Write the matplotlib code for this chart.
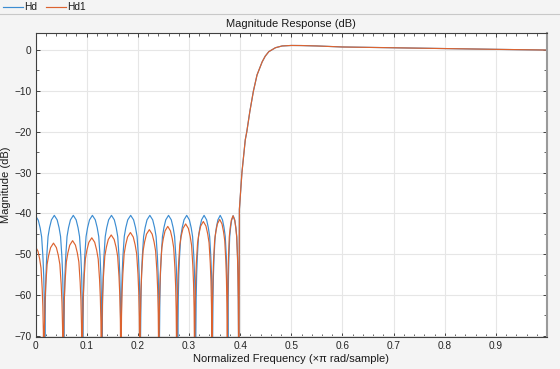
import numpy as np
import matplotlib
matplotlib.use('Agg')
import matplotlib.pyplot as plt
from matplotlib.lines import Line2D
from matplotlib.ticker import MultipleLocator

plt.rcParams['font.family'] = ['Liberation Sans', 'DejaVu Sans']

# DATA ######
# stopband nulls (x pi rad/sample) and lobe peak levels (dB)
hd_nulls = [0.0182, 0.0553, 0.0924, 0.130, 0.167, 0.205, 0.242, 0.278, 0.313, 0.346, 0.376, 0.397]
hd_peaks = [-40.6, -40.5, -40.5, -40.5, -40.5, -40.5, -40.5, -40.5, -40.5, -40.5, -40.5, -40.6]
hd1_nulls = [0.0163, 0.054, 0.091, 0.129, 0.167, 0.204, 0.241, 0.276, 0.311, 0.345, 0.375, 0.397]
hd1_peaks = [-48.2, -47.3, -46.7, -46.0, -45.3, -44.7, -44.0, -43.2, -42.6, -42.0, -41.5, -40.6]

# shape of one stopband lobe: (fraction of lobe width, dB below lobe peak)
lobe_frac = [0.0, 0.01, 0.03, 0.06, 0.10, 0.17, 0.25, 0.35, 0.5, 0.65, 0.75, 0.83, 0.90, 0.94, 0.97, 0.99]
lobe_drop = [-60, -30, -20.6, -14.6, -10.2, -5.2, -3.0, -1.1, 0.0, -1.1, -3.0, -5.2, -10.2, -14.6, -20.6, -30]

# transition band + passband (shared by both filters)
tb_freq = [0.3985, 0.4035, 0.410, 0.413, 0.419, 0.426, 0.433, 0.443, 0.449, 0.456, 0.469,
           0.482, 0.50, 0.52, 0.55, 0.60, 0.70, 0.80, 0.90, 0.999]
tb_mag = [-39.0, -30.0, -22.0, -20.0, -15.0, -10.0, -6.1, -2.9, -1.5, -0.4, 0.57,
          1.0, 1.12, 1.1, 1.0, 0.75, 0.55, 0.35, 0.17, 0.0]


def build(nulls, peaks):
    f, m = [], []
    # half lobe at dc
    for t, d in zip(lobe_frac, lobe_drop):
        if t >= 0.5:
            f.append(-nulls[0] + t * 2 * nulls[0])
            m.append(peaks[0] + d)
    for i in range(1, len(nulls)):
        a, b = nulls[i - 1], nulls[i]
        for t, d in zip(lobe_frac, lobe_drop):
            f.append(a + t * (b - a))
            m.append(peaks[i] + d)
    f.append(nulls[-1])
    m.append(peaks[-1] - 60)
    return np.array(f + tb_freq), np.array(m + tb_mag)


hd_f, hd_m = build(hd_nulls, hd_peaks)
hd1_f, hd1_m = build(hd1_nulls, hd1_peaks)

blue = '#3C8DD2'
orange = '#DC6330'

# PLOT ######
fig = plt.figure(figsize=(5.6, 3.69), dpi=100, facecolor='#f4f4f4')
ax = fig.add_axes([0.0634, 0.0867, 0.9127, 0.8247])
ax.set_facecolor('white')
ax.plot(hd_f, hd_m, color=blue, lw=0.85)
ax.plot(hd1_f, hd1_m, color=orange, lw=0.85)

ax.set_xlim(0, 0.999)
ax.set_ylim(-70.3, 4.25)
ax.xaxis.set_minor_locator(MultipleLocator(0.02))
ax.yaxis.set_major_locator(MultipleLocator(10))
ax.yaxis.set_minor_locator(MultipleLocator(5))
ax.set_xticks(np.arange(0, 1.0, 0.1))
ax.set_xticklabels(['0', '0.1', '0.2', '0.3', '0.4', '0.5', '0.6', '0.7', '0.8', '0.9'])
ax.tick_params(which='both', direction='in', top=True, right=True, labelsize=7.3,
               colors='#262626', pad=3)
ax.tick_params(which='major', length=3, width=0.6)
ax.tick_params(which='minor', length=2, width=0.5)
ax.grid(True, which='major', color='#e6e6e6', lw=0.8)
ax.set_axisbelow(True)
for s in ax.spines.values():
    s.set_color('#404040')
    s.set_linewidth(0.8)
ax.spines['right'].set_color('#9a9a9a')
ax.spines['right'].set_linewidth(1.5)

ax.set_title('Magnitude Response (dB)', fontsize=8, color='#1a1a1a', pad=4)
ax.set_xlabel('Normalized Frequency (\u00d7\u03c0 rad/sample)', fontsize=8, color='#1a1a1a', labelpad=2)
ax.set_ylabel('Magnitude (dB)', fontsize=8, color='#1a1a1a', labelpad=2)

# legend strip at top
fig.add_artist(Line2D([0, 1], [1 - 14 / 369, 1 - 14 / 369], color='#c8c8c8', lw=0.8))
ly = 1 - 7 / 369
fig.add_artist(Line2D([3 / 560, 23 / 560], [ly, ly], color=blue, lw=0.85))
fig.text(24 / 560, ly, 'Hd', fontsize=7.3, va='center', color='#1a1a1a')
fig.add_artist(Line2D([46 / 560, 66 / 560], [ly, ly], color=orange, lw=0.85))
fig.text(67 / 560, ly, 'Hd1', fontsize=7.3, va='center', color='#1a1a1a')

plt.savefig('out.png', dpi=100, facecolor=fig.get_facecolor())
